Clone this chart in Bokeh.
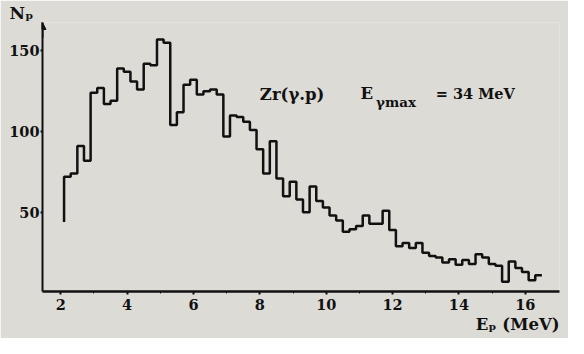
from bokeh.plotting import figure
from bokeh.models import FixedTicker, Label, Arrow, NormalHead, Range1d, Title
from bokeh.embed import file_html
from bokeh.resources import INLINE

# ---- data ----
bin_start = 2.1          # MeV, left edge of the first bin
bin_width = 0.2          # MeV
start_level = 44         # level the trace rises from at the first edge
counts = [72, 74, 91, 82, 124, 127, 117, 119, 139, 137,
          131, 126, 142, 141, 157, 155, 104, 112, 129, 132,
          123, 125, 126, 123, 97, 110, 109, 106, 101, 89,
          74, 94, 71, 60, 69, 58, 50, 66, 57, 53,
          48, 45, 38, 39.5, 41.5, 48, 43, 43, 51, 39,
          29, 31, 28, 31, 25, 23, 22, 19, 21, 17.5,
          20.5, 18, 24, 22, 18, 17, 7, 19.5, 15.5, 13,
          8, 11]
x_ticks = [2, 4, 6, 8, 10, 12, 14, 16]
x_minor = [3, 5, 7, 9, 11, 13, 15]
y_ticks = [50, 100, 150]

BG = "#dddbd6"
INK = "#111111"
FONT = "DejaVu Serif"

edges = [round(bin_start + i * bin_width, 3) for i in range(len(counts) + 1)]
xs = [edges[0]] + edges
ys = [start_level] + counts + [counts[-1]]

p = figure(width=568, height=338, output_backend="svg", toolbar_location=None,
           x_range=Range1d(1.45, 17.03), y_range=Range1d(1, 167.5),
           min_border_left=42, min_border_right=9, min_border_top=21, min_border_bottom=47,
           background_fill_color=BG, border_fill_color=BG, outline_line_color=None)
p.grid.visible = False

p.step(xs, ys, mode="after", line_color=INK, line_width=2.5)

xa = p.xaxis[0]
xa.ticker = FixedTicker(ticks=x_ticks, minor_ticks=x_minor)
xa.axis_line_width = 2.5
xa.axis_line_color = INK
xa.major_tick_line_color = INK
xa.major_tick_line_width = 2
xa.major_tick_in = 0
xa.major_tick_out = 3
xa.minor_tick_line_color = INK
xa.minor_tick_in = 0
xa.minor_tick_out = 2
xa.major_label_standoff = 4
xa.major_label_text_font = FONT
xa.major_label_text_font_style = "bold"
xa.major_label_text_font_size = "14.5px"
xa.major_label_text_color = INK

ya = p.yaxis[0]
ya.ticker = FixedTicker(ticks=y_ticks, minor_ticks=[])
ya.axis_line_width = 2
ya.axis_line_color = INK
ya.major_tick_line_color = INK
ya.major_tick_line_width = 2
ya.major_tick_in = 0
ya.major_tick_out = 2
ya.minor_tick_line_color = None
ya.major_label_standoff = 1
ya.major_label_text_font = FONT
ya.major_label_text_font_style = "bold"
ya.major_label_text_font_size = "14.5px"
ya.major_label_text_color = INK

p.add_layout(Arrow(end=NormalHead(size=7, fill_color=INK, line_color=INK),
                   x_start=1.45, y_start=158, x_end=1.45, y_end=167.5,
                   line_color=INK, line_width=2))

# axis titles as side-panel titles
p.add_layout(Title(text="Nₚ", align="left", offset=-33, standoff=0,
                   text_font=FONT, text_font_style="bold", text_font_size="17px",
                   text_color=INK), "above")
p.add_layout(Title(text="Eₚ (MeV)", align="right", offset=0, standoff=0,
                   text_font=FONT, text_font_style="bold", text_font_size="16.5px",
                   text_color=INK), "below")

def lab(x, y, t, size):
    p.add_layout(Label(x=x, y=y, text=t, text_font=FONT, text_font_style="bold",
                       text_font_size=size, text_color=INK, text_baseline="alphabetic"))

# in-plot annotation
lab(8.0, 122.8, "Zr(γ.p)", "16.5px")
lab(11.03, 123.4, "E", "16.5px")
lab(11.50, 118.4, "γmax", "13.5px")
lab(13.30, 123.4, "= 34 MeV", "14.5px")

html = file_html(p, INLINE)
html = html.replace("<body>", '<body style="background:%s">' % BG, 1)
open("out.html", "w").write(html)
